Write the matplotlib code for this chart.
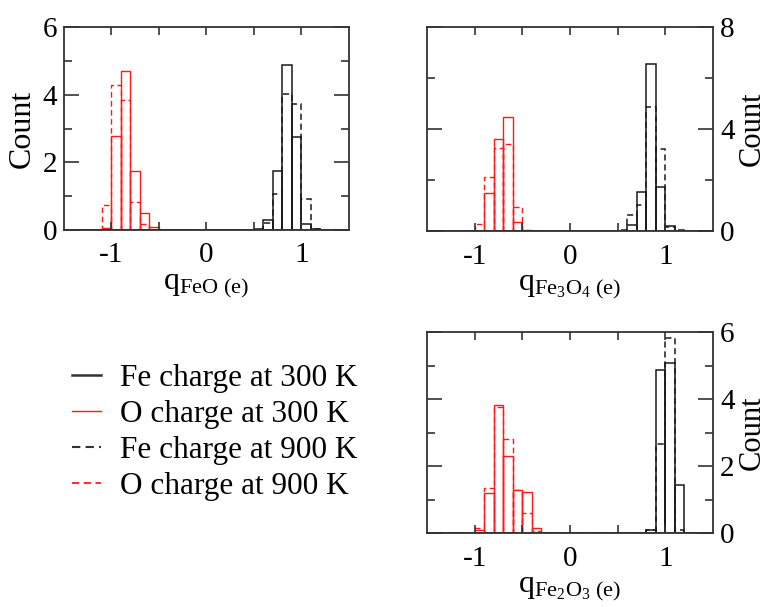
import numpy as np
import matplotlib
matplotlib.use("Agg")
import matplotlib.pyplot as plt
from matplotlib.lines import Line2D

plt.rcParams['font.family'] = ['Liberation Serif', 'DejaVu Serif']
plt.rcParams['mathtext.fontset'] = 'custom'
plt.rcParams['mathtext.rm'] = 'Liberation Serif'
plt.rcParams['mathtext.it'] = 'Liberation Serif:italic'
plt.rcParams['axes.unicode_minus'] = False
plt.rcParams['font.size'] = 21

# histogram bins: width 0.1 over -1.5 .. 1.5
bin_width = 0.1
x_min, x_max = -1.5, 1.5

# FeO  (first bin left edge, counts per bin)
feo_fe300_start = 0.5
feo_fe300 = [0.03, 0.31, 1.74, 4.88, 2.74, 0.18, 0.02]
feo_o300_start = -1.1
feo_o300 = [0.05, 2.79, 4.69, 1.75, 0.50, 0.08]
feo_fe900_start = 0.6
feo_fe900 = [0.21, 1.07, 4.01, 3.73, 0.93, 0.03]
feo_o900_start = -1.1
feo_o900 = [0.75, 4.29, 3.84, 0.83, 0.18]

# Fe3O4
fe3o4_fe300_start = 0.6
fe3o4_fe300 = [0.24, 1.55, 6.57, 1.71, 0.21]
fe3o4_o300_start = -0.9
fe3o4_o300 = [1.51, 3.60, 4.47, 0.35, 0.04]
fe3o4_fe900_start = 0.5
fe3o4_fe900 = [0.03, 0.64, 1.01, 4.88, 3.20, 0.17, 0.05]
fe3o4_o900_start = -1.0
fe3o4_o900 = [0.27, 2.11, 3.24, 3.41, 0.93]

# Fe2O3
fe2o3_fe300_start = 0.8
fe2o3_fe300 = [0.08, 4.88, 5.08, 1.44]
fe2o3_o300_start = -1.0
fe2o3_o300 = [0.09, 1.20, 3.82, 2.31, 1.28, 1.23, 0.14]
fe2o3_fe900_start = 0.8
fe2o3_fe900 = [0.10, 2.65, 5.82, 0.08]
fe2o3_o900_start = -1.0
fe2o3_o900 = [0.16, 1.35, 3.75, 2.80, 1.27, 0.60, 0.06]

legend_labels = ["Fe charge at 300 K", "O charge at 300 K",
                 "Fe charge at 900 K", "O charge at 900 K"]

BLACK = '#1a1a1a'
RED = '#ff1a1a'
DASH = (0, (4, 2.5))
n_bins = int(round((x_max - x_min) / bin_width))
centers = x_min + bin_width * (np.arange(n_bins) + 0.5)


def draw_hist(ax, start, counts, color, ls, lw):
    full = np.zeros(n_bins)
    i0 = int(round((start - x_min) / bin_width))
    full[i0:i0 + len(counts)] = counts
    ax.bar(centers, full, width=bin_width, fill=False, edgecolor=color,
           linestyle=ls, linewidth=lw)


def style(ax, ymax, ymajor, yminor, right):
    ax.set_xlim(x_min, x_max)
    ax.set_ylim(0, ymax)
    ax.set_xticks([-1, 0, 1])
    ax.set_xticks([-0.5, 0.5], minor=True)
    ax.set_yticks(ymajor)
    ax.set_yticks(yminor, minor=True)
    ax.tick_params(axis='both', which='both', direction='in', top=True,
                   right=True, left=True, bottom=True, width=1.2,
                   color='#333333', labelsize=21)
    ax.tick_params(axis='x', which='both', length=6, pad=9)
    ax.tick_params(axis='y', which='major', length=11, pad=5)
    ax.tick_params(axis='y', which='minor', length=6)
    for s in ax.spines.values():
        s.set_linewidth(1.3)
        s.set_color('#333333')
    if right:
        ax.tick_params(axis='y', labelleft=False, labelright=True)
        ax.yaxis.set_label_position('right')
        ax.set_ylabel('Count', fontsize=22, labelpad=2)
    else:
        ax.set_ylabel('Count', fontsize=23, labelpad=4)


fig = plt.figure(figsize=(7.69, 6.07), dpi=100)
ax1 = fig.add_axes([0.0832, 0.6211, 0.3706, 0.3344])
ax2 = fig.add_axes([0.5553, 0.6194, 0.3719, 0.3360])
ax3 = fig.add_axes([0.5553, 0.1219, 0.3719, 0.3311])

draw_hist(ax1, feo_fe300_start, feo_fe300, BLACK, '-', 1.1)
draw_hist(ax1, feo_o300_start, feo_o300, RED, '-', 1.0)
draw_hist(ax1, feo_fe900_start, feo_fe900, BLACK, DASH, 1.1)
draw_hist(ax1, feo_o900_start, feo_o900, RED, DASH, 1.0)
style(ax1, 6, [0, 2, 4, 6], [1, 3, 5], False)
ax1.set_xlabel(r'q$_{\mathrm{FeO\ (e)}}$', fontsize=23, labelpad=2)

draw_hist(ax2, fe3o4_fe300_start, fe3o4_fe300, BLACK, '-', 1.1)
draw_hist(ax2, fe3o4_o300_start, fe3o4_o300, RED, '-', 1.0)
draw_hist(ax2, fe3o4_fe900_start, fe3o4_fe900, BLACK, DASH, 1.1)
draw_hist(ax2, fe3o4_o900_start, fe3o4_o900, RED, DASH, 1.0)
style(ax2, 8, [0, 4, 8], [2, 6], True)
ax2.set_xlabel(r'q$_{\mathrm{Fe_3O_4}\ \mathrm{(e)}}$', fontsize=23, labelpad=2)

draw_hist(ax3, fe2o3_fe300_start, fe2o3_fe300, BLACK, '-', 1.1)
draw_hist(ax3, fe2o3_o300_start, fe2o3_o300, RED, '-', 1.0)
draw_hist(ax3, fe2o3_fe900_start, fe2o3_fe900, BLACK, DASH, 1.1)
draw_hist(ax3, fe2o3_o900_start, fe2o3_o900, RED, DASH, 1.0)
style(ax3, 6, [0, 2, 4, 6], [1, 3, 5], True)
ax3.set_xlabel(r'q$_{\mathrm{Fe_2O_3}\ \mathrm{(e)}}$', fontsize=23, labelpad=2)

handles = [Line2D([], [], color='#333333', lw=1.8),
           Line2D([], [], color=RED, lw=1.0),
           Line2D([], [], color='#333333', lw=1.5, ls=DASH),
           Line2D([], [], color=RED, lw=1.3, ls=DASH)]
fig.legend(handles, legend_labels, loc='upper left',
           bbox_to_anchor=(0.093, 0.40), frameon=False, borderpad=0,
           borderaxespad=0, handlelength=0.95, handletextpad=0.6,
           labelspacing=0.22, fontsize=22.5)

fig.savefig('out.png', dpi=100)
